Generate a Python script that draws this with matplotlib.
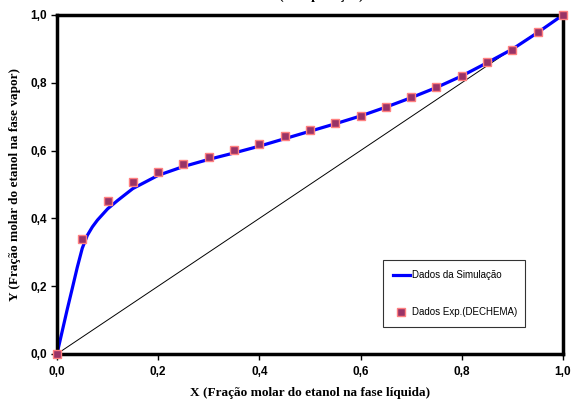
import numpy as np
import matplotlib.pyplot as plt

# Dados experimentais (DECHEMA)
x_exp = [0.0, 0.05, 0.10, 0.15, 0.20, 0.25, 0.30, 0.35, 0.40, 0.45, 0.50,
         0.55, 0.60, 0.65, 0.70, 0.75, 0.80, 0.85, 0.90, 0.95, 1.0]
y_exp = [0.0, 0.339, 0.452, 0.508, 0.537, 0.560, 0.581, 0.601, 0.620, 0.643, 0.661,
         0.681, 0.702, 0.729, 0.758, 0.787, 0.820, 0.862, 0.898, 0.951, 1.0]

# Dados da simulacao
x_sim = [0.0, 0.01, 0.02, 0.03, 0.04, 0.05, 0.06, 0.07, 0.08, 0.10, 0.12, 0.15, 0.20,
         0.25, 0.30, 0.35, 0.40, 0.45, 0.50, 0.55, 0.60, 0.65, 0.70, 0.75, 0.80,
         0.85, 0.90, 0.95, 1.0]
y_sim = [0.0, 0.065, 0.13, 0.192, 0.255, 0.312, 0.35, 0.375, 0.395, 0.428, 0.453, 0.488, 0.527,
         0.553, 0.574, 0.593, 0.613, 0.635, 0.657, 0.679, 0.702, 0.728, 0.756, 0.786, 0.820,
         0.859, 0.899, 0.948, 1.0]

diag = [0.0, 1.0]

fig = plt.figure(figsize=(5.71, 4.05), dpi=100)
ax = fig.add_axes([0.0998, 0.126, 0.886, 0.837])

ax.plot(diag, diag, color='black', lw=0.7, zorder=1)
ax.plot(x_sim, y_sim, color='#0000ff', lw=2.3, label=u'Dados da Simulação', zorder=2)
ax.plot(x_exp, y_exp, ls='none', marker='s', ms=5.5, mfc='#993366', mec='#ff8080',
        mew=1.0, label=u'Dados Exp.(DECHEMA)', zorder=3, clip_on=False)

ax.set_xlim(0, 1)
ax.set_ylim(0, 1)
ax.set_xticks(np.arange(0, 1.01, 0.2))
ax.set_yticks(np.arange(0, 1.01, 0.2))
ax.set_xticklabels(['0,0', '0,2', '0,4', '0,6', '0,8', '1,0'])
ax.set_yticklabels(['0,0', '0,2', '0,4', '0,6', '0,8', '1,0'])
for lab in ax.get_xticklabels() + ax.get_yticklabels():
    lab.set_fontfamily('Liberation Sans')
    lab.set_fontweight('bold')
    lab.set_fontsize(8.5)
ax.tick_params(direction='out', length=4, width=1, pad=5)
ax.tick_params(axis='y', pad=3)
for s in ax.spines.values():
    s.set_linewidth(2.5)

ax.set_xlabel(u'X (Fração molar do etanol na fase líquida)', family='Liberation Serif',
              fontweight='bold', fontsize=9.5, labelpad=6)
ax.set_ylabel(u'Y (Fração molar do etanol na fase vapor)', family='Liberation Serif',
              fontweight='bold', fontsize=9.5, labelpad=7)

fig.text(0.562, 1 + 1.5 / 405, u'(Comparação)', family='Liberation Serif',
         fontweight='bold', fontsize=10, ha='center', va='baseline')

leg = ax.legend(loc='lower left', bbox_to_anchor=(0.645, 0.08, 0.28, 0.205),
                mode='expand', prop={'family': 'Liberation Sans', 'size': 7},
                fancybox=False, edgecolor='black', handlelength=1.7, handletextpad=0.3,
                labelspacing=2.8, borderpad=1.0, borderaxespad=0)
leg.get_frame().set_linewidth(0.8)

fig.savefig('out.png', dpi=100)
